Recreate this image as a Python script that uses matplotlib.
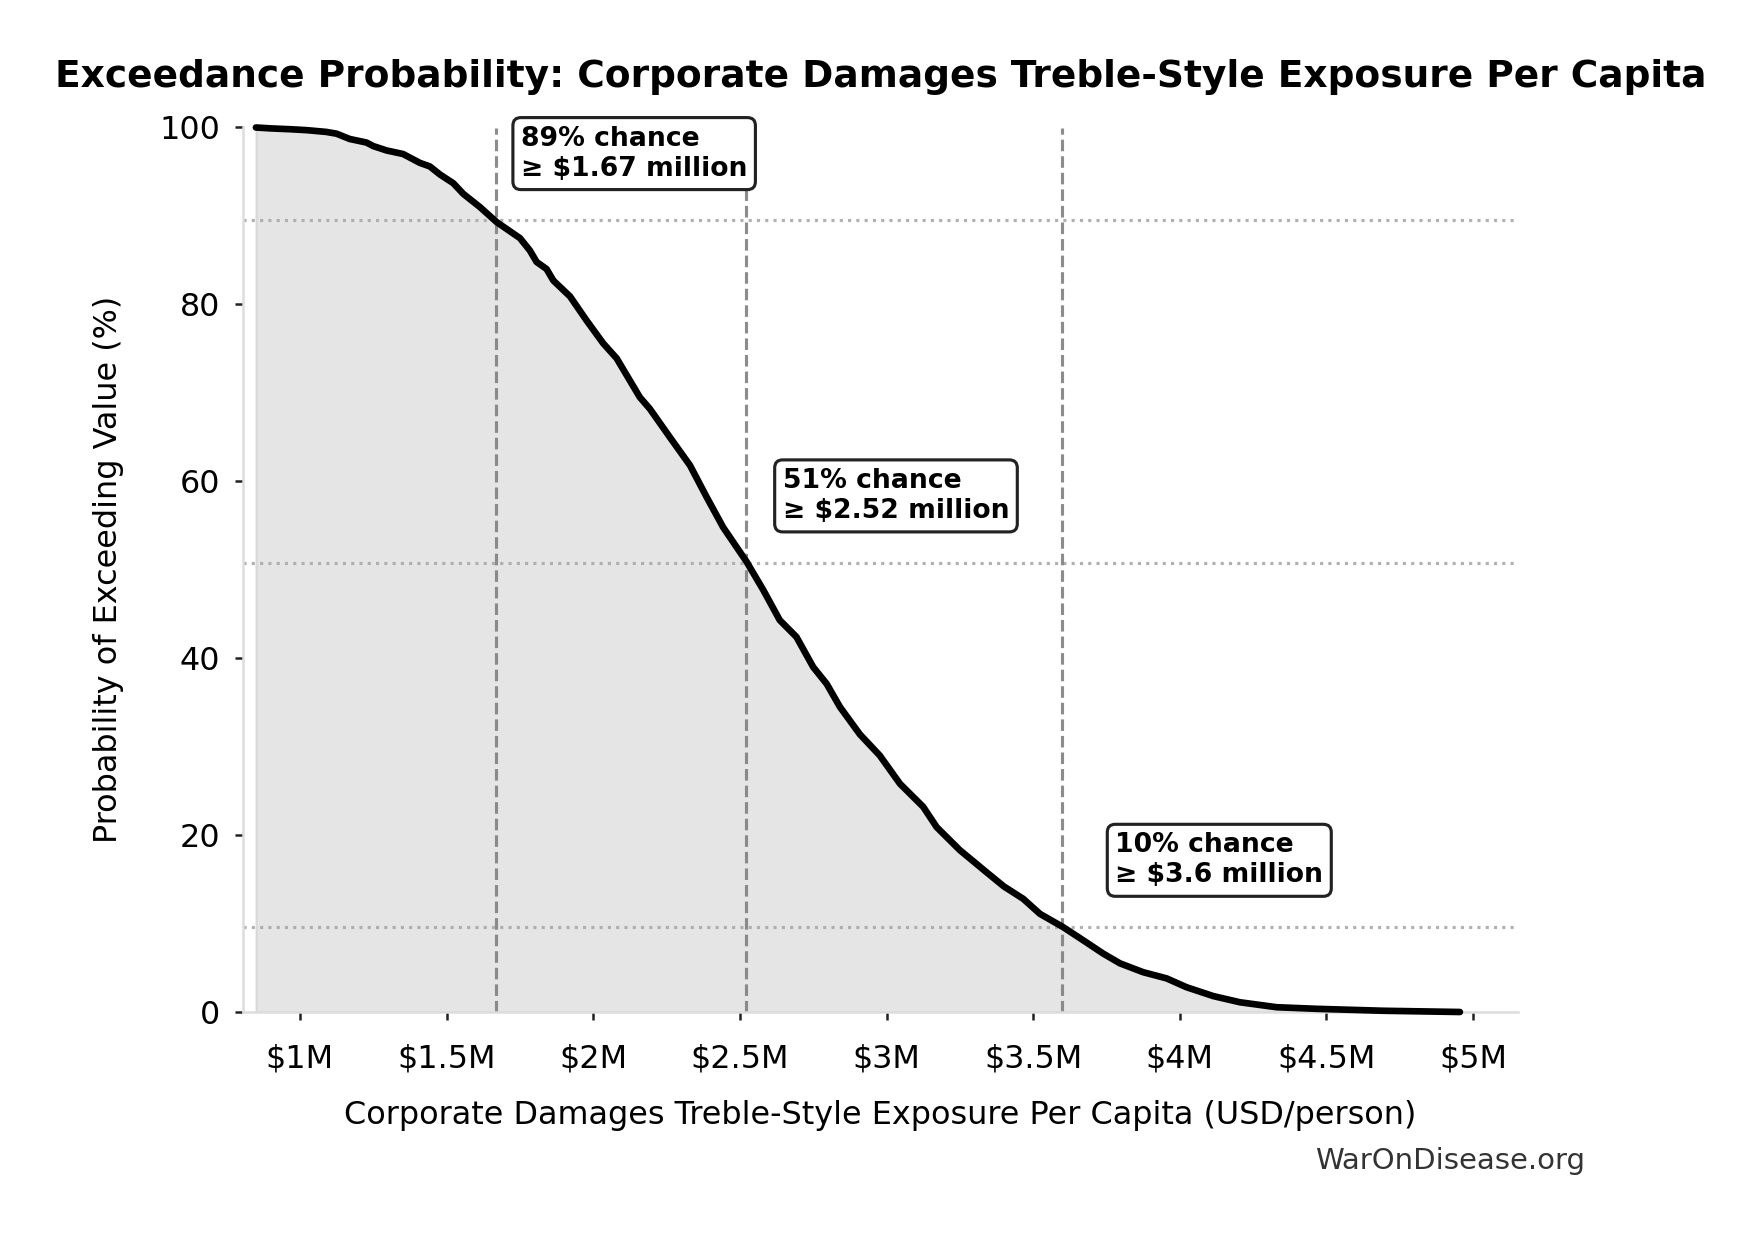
import matplotlib
matplotlib.use("Agg")
import matplotlib.pyplot as plt
from matplotlib.ticker import FuncFormatter, MultipleLocator
import numpy as np

# Exceedance curve (value in million USD, probability %)
value_musd = [0.85, 0.90, 0.97, 1.023, 1.09, 1.125, 1.17, 1.227, 1.25, 1.296,
              1.352, 1.409, 1.443, 1.477, 1.523, 1.557, 1.614, 1.671, 1.750, 1.784,
              1.807, 1.841, 1.864, 1.921, 1.977, 2.034, 2.080, 2.159, 2.193, 2.261,
              2.330, 2.387, 2.443, 2.523, 2.580, 2.636, 2.693, 2.750, 2.796, 2.841,
              2.909, 2.977, 3.046, 3.125, 3.171, 3.250, 3.341, 3.400, 3.466, 3.523,
              3.602, 3.671, 3.739, 3.796, 3.875, 3.955, 4.023, 4.114, 4.205, 4.330,
              4.466, 4.693, 4.955]
prob_pct = [100.0, 99.9, 99.8, 99.7, 99.5, 99.3, 98.7, 98.3, 97.9, 97.4,
            97.0, 96.0, 95.6, 94.7, 93.7, 92.5, 91.0, 89.3, 87.5, 86.1,
            84.8, 84.0, 82.7, 80.9, 78.2, 75.6, 73.9, 69.5, 68.2, 65.0,
            61.8, 58.2, 54.8, 50.9, 47.7, 44.3, 42.4, 39.0, 37.1, 34.5,
            31.4, 29.0, 25.8, 23.2, 20.9, 18.3, 15.8, 14.2, 12.8, 11.1,
            9.6, 8.1, 6.6, 5.5, 4.5, 3.8, 2.8, 1.8, 1.1, 0.54,
            0.36, 0.14, 0.0]

# Marked thresholds
mark_values_musd = [1.67, 2.52, 3.60]
mark_probs = [89.5, 50.8, 9.6]
mark_labels = ["89% chance\n\u2265 $1.67 million",
               "51% chance\n\u2265 $2.52 million",
               "10% chance\n\u2265 $3.6 million"]

x_ticks_musd = [1, 1.5, 2, 2.5, 3, 3.5, 4, 4.5, 5]

plt.rcParams['font.family'] = ['DejaVu Sans']

fig = plt.figure(figsize=(1761 / 150, 1234 / 150), dpi=150)
ax = fig.add_axes([243 / 1761, 1 - 1012 / 1234, (1518 - 243) / 1761, (1012 - 127.5) / 1234])

x = np.array(value_musd) * 1e6
y = np.array(prob_pct)

ax.fill_between(x, y, 0, color='gray', alpha=0.2)
ax.plot(x, y, color='black', linewidth=3.2, clip_on=False, zorder=4,
        solid_joinstyle='round', solid_capstyle='round')

for v, p, lab in zip(mark_values_musd, mark_probs, mark_labels):
    ax.axvline(v * 1e6, color='gray', linestyle='--', linewidth=1.5, alpha=0.9, zorder=2)
    ax.axhline(p, color='darkgray', linestyle=':', linewidth=1.5, alpha=0.9, zorder=2)
    ax.text(v * 1e6 * 1.05, p + 7.55, lab, fontsize=12.8, fontweight='bold',
            ha='left', va='center', zorder=6,
            bbox=dict(boxstyle='round,pad=0.3', facecolor='white',
                      edgecolor='#222222', linewidth=1.5))

ax.set_xlim(0.806e6, 5.153e6)
ax.set_ylim(0, 100)
ax.set_xticks([t * 1e6 for t in x_ticks_musd])
ax.xaxis.set_major_formatter(FuncFormatter(lambda v, pos: f"${v / 1e6:g}M"))
ax.yaxis.set_major_locator(MultipleLocator(20))

for s in ['top', 'right']:
    ax.spines[s].set_visible(False)
for s in ['left', 'bottom']:
    ax.spines[s].set_color('#dddddd')
    ax.spines[s].set_linewidth(1.2)

ax.tick_params(axis='both', labelsize=15.3, length=4, width=1.2, color='#222222', pad=7)
ax.tick_params(axis='x', pad=11)

ax.set_xlabel("Corporate Damages Treble-Style Exposure Per Capita (USD/person)",
              fontsize=15.3, labelpad=12.5)
ax.set_ylabel("Probability of Exceeding Value (%)", fontsize=15.3, labelpad=17)

fig.text(0.5, 1 - 77 / 1234, "Exceedance Probability: Corporate Damages Treble-Style Exposure Per Capita",
         ha='center', va='center', fontsize=18, fontweight='bold')
fig.text(1585 / 1761, 1 - 1161 / 1234, "WarOnDisease.org", ha='right', va='center',
         fontsize=14, color='#333333')

fig.savefig("out.png", dpi=150)
